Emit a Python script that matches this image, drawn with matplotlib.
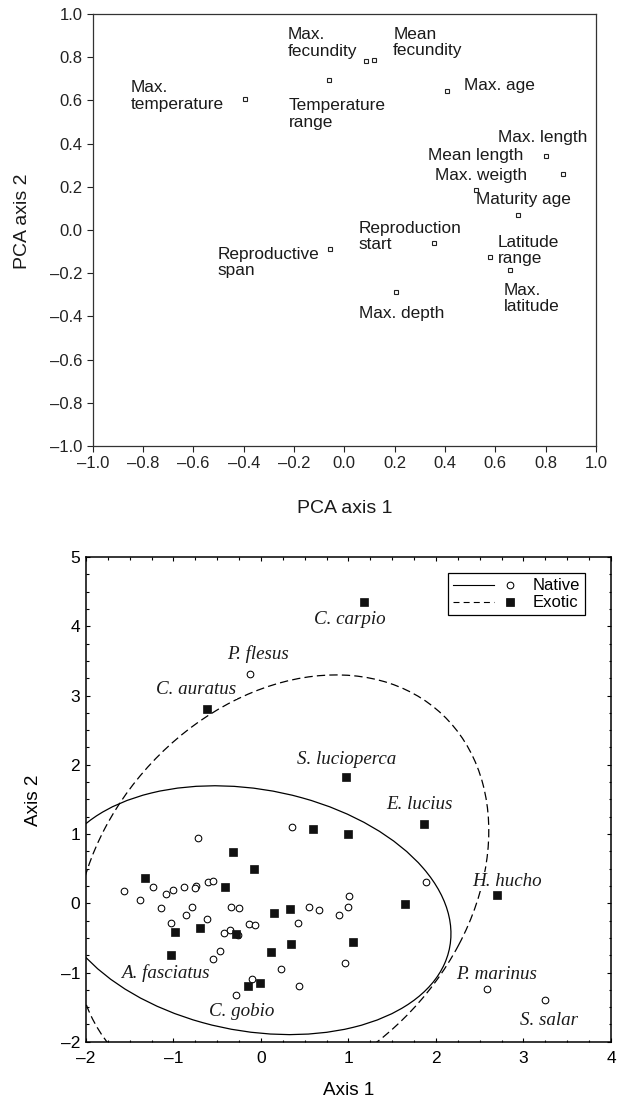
import matplotlib
matplotlib.use("Agg")
import matplotlib.pyplot as plt
from matplotlib.lines import Line2D
from matplotlib.patches import Ellipse
from matplotlib.legend_handler import HandlerBase
from matplotlib.ticker import MultipleLocator

plt.rcParams["font.family"] = ["Liberation Sans", "DejaVu Sans"]
plt.rcParams["lines.scale_dashes"] = False
plt.rcParams["axes.unicode_minus"] = True

# --- PCA loadings of the life-history traits ---
traits = ["Max.\ntemperature", "Temperature\nrange", "Max.\nfecundity", "Mean\nfecundity",
          "Max. age", "Max. length", "Max. weigth", "Mean length", "Maturity age",
          "Reproduction\nstart", "Reproductive\nspan", "Latitude\nrange", "Max.\nlatitude",
          "Max. depth"]
trait_pc1 = [-0.393, -0.061, 0.085, 0.117, 0.409, 0.800, 0.867, 0.524, 0.691,
             0.357, -0.058, 0.577, 0.657, 0.206]
trait_pc2 = [0.607, 0.696, 0.781, 0.787, 0.644, 0.343, 0.258, 0.183, 0.071,
             -0.061, -0.089, -0.127, -0.186, -0.286]

# --- species scores on the two axes ---
native_x = [0.35, -0.72, 1.89, -1.57, -1.38, -1.23, -1.14, -1.08, -1.00, -0.88, -0.74, -0.75,
            -0.60, -0.55, -0.79, -0.86, -0.62, -1.03, -0.34, -0.25, -0.35, -0.42, -0.26, -0.14,
            -0.07, -0.47, 0.55, 0.66, 0.42, 1.01, 1.00, 0.89, 0.96, 0.23, -0.10, 0.43]
native_y = [1.10, 0.94, 0.31, 0.18, 0.04, 0.23, -0.07, 0.13, 0.19, 0.24, 0.25, 0.22,
            0.30, 0.32, -0.05, -0.17, -0.23, -0.29, -0.05, -0.07, -0.38, -0.43, -0.46, -0.30,
            -0.31, -0.69, -0.05, -0.10, -0.29, 0.10, -0.06, -0.17, -0.86, -0.95, -1.09, -1.20]
exotic_x = [0.60, 1.00, -0.32, -0.08, -1.33, -0.41, 1.65, 0.33, 0.15, -0.70, -0.98, -0.29,
            0.34, 1.05, 0.11, -1.03, -0.01, -0.15]
exotic_y = [1.07, 1.00, 0.74, 0.50, 0.36, 0.24, -0.01, -0.08, -0.14, -0.36, -0.42, -0.44,
            -0.59, -0.56, -0.71, -0.75, -1.15, -1.20]

# named species
species = ["C. carpio", "P. flesus", "C. auratus", "S. lucioperca", "E. lucius", "H. hucho",
           "A. fasciatus", "C. gobio", "P. marinus", "S. salar"]
species_status = ["exotic", "native", "exotic", "exotic", "exotic", "exotic",
                  "native", "native", "native", "native"]
species_x = [1.18, -0.12, -0.62, 0.97, 1.86, 2.70, -0.55, -0.29, 2.58, 3.25]
species_y = [4.35, 3.31, 2.80, 1.82, 1.15, 0.12, -0.81, -1.32, -1.24, -1.40]

# dispersion ellipses: centre x, centre y, width, height, angle
native_ellipse = [-0.10, -0.10, 4.66, 3.44, -19.3]
exotic_ellipse = [0.24, 0.245, 6.36, 4.38, 67.3]

# label offsets in points (dx, dy, ha)
trait_offsets = [(-15.8, 2.0, "right"), (-29.2, -24.7, "left"), (-6.3, 13.2, "right"),
                 (14.0, 12.3, "left"), (12.0, 3.7, "left"), (30.1, 13.3, "right"),
                 (-25.3, -0.8, "right"), (33.9, 25.3, "right"), (-30.6, 10.7, "left"),
                 (-54.3, 4.8, "left"), (-7.3, -9.6, "right"), (6.0, 4.8, "left"),
                 (-4.5, -20.3, "left"), (-27.0, -15.8, "left")]
species_offsets = [(-10.3, -12.5), (5.6, 14.5), (-7.6, 14.0), (0.9, 13.0), (-3.2, 14.0),
                   (6.9, 10.0), (-34.0, -10.0), (4.6, -12.0), (6.9, 10.5), (2.5, -14.5)]

DASH = (0, (6, 3))
CIRCLE_MS = 4.8
SQUARE_MS = 5.2


class HandlerLineThenMarker(HandlerBase):
    """Legend key: a short line followed by the marker."""

    def create_artists(self, legend, orig_handle, xdescent, ydescent, width, height,
                       fontsize, trans):
        y = height / 2 - ydescent
        x0 = -xdescent
        ls = "-" if orig_handle.get_linestyle() == "-" else (0, (4.3, 3))
        line = Line2D([x0, x0 + 0.66 * width], [y, y], color="black", lw=0.8, linestyle=ls)
        mark = Line2D([x0 + 0.9 * width], [y], linestyle="none",
                      marker=orig_handle.get_marker(),
                      markersize=orig_handle.get_markersize(),
                      markerfacecolor=orig_handle.get_markerfacecolor(),
                      markeredgecolor="black", markeredgewidth=orig_handle.get_markeredgewidth())
        line.set_transform(trans)
        mark.set_transform(trans)
        return [line, mark]


fig = plt.figure(figsize=(6.19, 10.99), dpi=100)

# ---------------- top: trait loadings ----------------
ax1 = fig.add_axes([0.1498, 0.5942, 0.8130, 0.3931])
ax1.plot(trait_pc1, trait_pc2, linestyle="none", marker="s", markersize=3.0,
         markerfacecolor="white", markeredgecolor="#222222", markeredgewidth=0.8, zorder=3)
for name, x, y, (dx, dy, ha) in zip(traits, trait_pc1, trait_pc2, trait_offsets):
    ax1.annotate(name, (x, y), xytext=(dx, dy), textcoords="offset points",
                 ha=ha, va="center", multialignment="left", fontsize=12.4,
                 linespacing=1.1, color="#1a1a1a", zorder=2)

ax1.set_xlim(-1.0, 1.0)
ax1.set_ylim(-1.0, 1.0)
ax1.xaxis.set_major_locator(MultipleLocator(0.2))
ax1.yaxis.set_major_locator(MultipleLocator(0.2))
ax1.xaxis.set_major_formatter(lambda v, p: f"{v:.1f}".replace("-", "\u2013"))
ax1.yaxis.set_major_formatter(lambda v, p: f"{v:.1f}".replace("-", "\u2013"))
ax1.tick_params(direction="out", length=4, width=0.8, labelsize=12, pad=3.5,
                colors="#222222")
for s in ax1.spines.values():
    s.set_linewidth(0.9)
    s.set_color("#333333")
ax1.set_xlabel("PCA axis 1", fontsize=14, color="#1a1a1a")
ax1.set_ylabel("PCA axis 2", fontsize=14, color="#1a1a1a", va="center")
ax1.xaxis.set_label_coords(0.5, -0.125)
ax1.yaxis.set_label_coords(-0.139, 0.52)

# ---------------- bottom: species scores ----------------
ax2 = fig.add_axes([0.1389, 0.0521, 0.8481, 0.4410])

for (cx, cy, w, h, ang), ls in ((native_ellipse, "-"), (exotic_ellipse, DASH)):
    ax2.add_patch(Ellipse((cx, cy), w, h, angle=ang, fill=False, edgecolor="black",
                          linewidth=0.9, linestyle=ls, zorder=1))

nat_x = native_x + [x for x, s in zip(species_x, species_status) if s == "native"]
nat_y = native_y + [y for y, s in zip(species_y, species_status) if s == "native"]
exo_x = exotic_x + [x for x, s in zip(species_x, species_status) if s == "exotic"]
exo_y = exotic_y + [y for y, s in zip(species_y, species_status) if s == "exotic"]

ax2.plot(nat_x, nat_y, linestyle="none", marker="o", markersize=CIRCLE_MS,
         markerfacecolor="white", markeredgecolor="black", markeredgewidth=0.75, zorder=3)
ax2.plot(exo_x, exo_y, linestyle="none", marker="s", markersize=SQUARE_MS,
         markerfacecolor="#111111", markeredgecolor="#111111", markeredgewidth=0.5, zorder=3)

for name, x, y, (dx, dy) in zip(species, species_x, species_y, species_offsets):
    ax2.annotate(name, (x, y), xytext=(dx, dy), textcoords="offset points",
                 ha="center", va="center", fontsize=13.7, fontstyle="italic",
                 family=["Liberation Serif", "DejaVu Serif"], color="#1a1a1a",
                 bbox=dict(boxstyle="square,pad=0.05", facecolor="white", edgecolor="none"),
                 zorder=4)

handles = [Line2D([], [], linestyle="-", marker="o", markersize=CIRCLE_MS,
                  markerfacecolor="white", markeredgewidth=0.75),
           Line2D([], [], linestyle="--", marker="s", markersize=SQUARE_MS,
                  markerfacecolor="#111111", markeredgewidth=0.5)]
leg = ax2.legend(handles, ["Native", "Exotic"], loc="upper right",
                 bbox_to_anchor=(0.9505, 0.9664), borderaxespad=0, fontsize=12,
                 handlelength=3.8, handletextpad=1.0, labelspacing=0.12, borderpad=0.3,
                 fancybox=False, framealpha=1, edgecolor="black",
                 handler_map={Line2D: HandlerLineThenMarker()})
leg.get_frame().set_linewidth(0.9)

ax2.set_xlim(-2, 4)
ax2.set_ylim(-2, 5)
ax2.xaxis.set_major_locator(MultipleLocator(1))
ax2.yaxis.set_major_locator(MultipleLocator(1))
ax2.xaxis.set_minor_locator(MultipleLocator(0.25))
ax2.yaxis.set_minor_locator(MultipleLocator(0.25))
ax2.xaxis.set_major_formatter(lambda v, p: f"{v:.0f}".replace("-", "\u2013"))
ax2.yaxis.set_major_formatter(lambda v, p: f"{v:.0f}".replace("-", "\u2013"))
ax2.tick_params(which="both", direction="in", top=True, right=True, width=0.8)
ax2.tick_params(which="major", length=3.2, labelsize=12.5)
ax2.tick_params(which="minor", length=1.8)
ax2.tick_params(axis="x", which="major", pad=7)
ax2.tick_params(axis="y", which="major", pad=4.3)
for s in ax2.spines.values():
    s.set_linewidth(1.1)
ax2.set_xlabel("Axis 1", fontsize=13.6, va="center")
ax2.set_ylabel("Axis 2", fontsize=13.6, va="center")
ax2.xaxis.set_label_coords(0.5, -0.0997)
ax2.yaxis.set_label_coords(-0.1004, 0.4987)

fig.savefig("out.png", dpi=100)
